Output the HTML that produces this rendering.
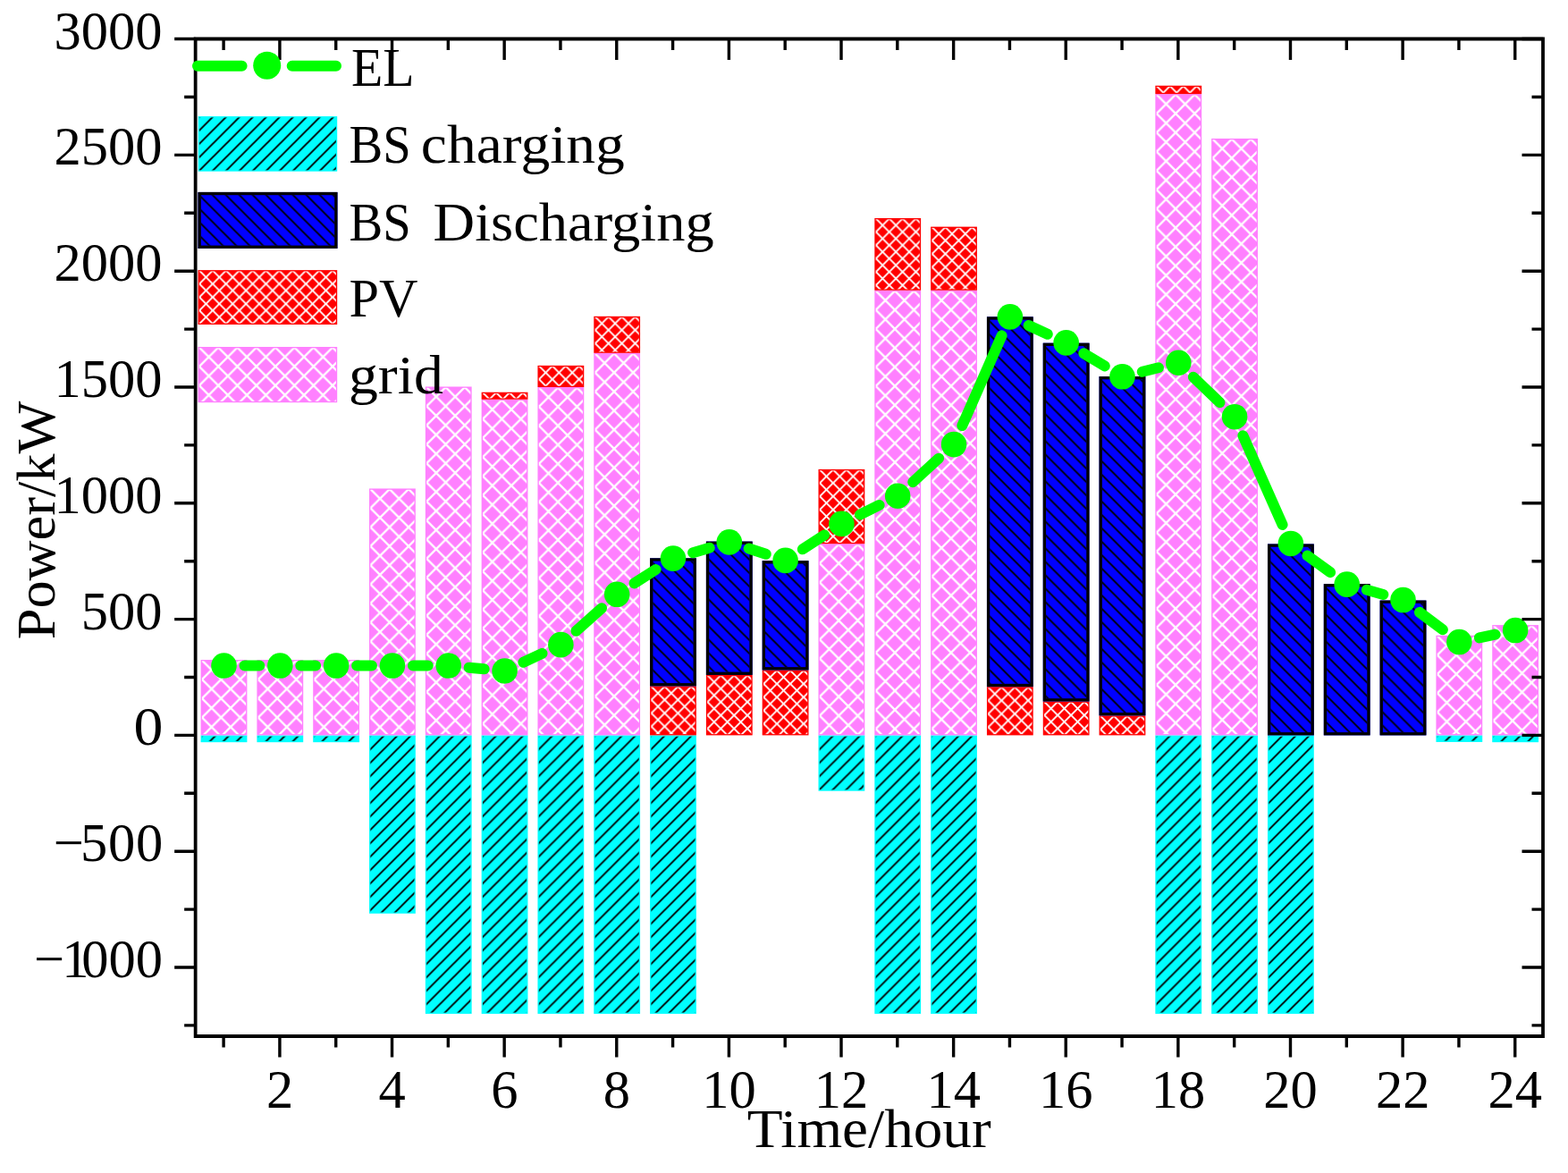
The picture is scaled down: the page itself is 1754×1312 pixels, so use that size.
<!DOCTYPE html>
<html><head><meta charset="utf-8"><title>Power chart</title>
<style>html,body{margin:0;padding:0;background:#fff}svg{display:block}</style></head>
<body><svg width="1754" height="1312" viewBox="0 0 1754 1312">
<defs><pattern id="pk" patternUnits="userSpaceOnUse" x="1.4" y="0.6" width="21.3" height="21.3"><rect width="21.3" height="21.3" fill="#FF80FF"/><path d="M-10.65,-10.65L31.95,31.95M-10.65,31.95L31.95,-10.65M-10.65,10.65L10.65,-10.65M10.65,31.95L31.95,10.65M-10.65,10.65L10.65,31.95M10.65,-10.65L31.95,10.65" stroke="#fff" stroke-width="2.3" fill="none"/></pattern><pattern id="rd" patternUnits="userSpaceOnUse" x="1.5" y="0.5" width="14.9" height="14.9"><rect width="14.9" height="14.9" fill="#FF0000"/><path d="M-7.45,-7.45L22.35,22.35M-7.45,22.35L22.35,-7.45M-7.45,7.45L7.45,-7.45M7.45,22.35L22.35,7.45M-7.45,7.45L7.45,22.35M7.45,-7.45L22.35,7.45" stroke="#fff" stroke-width="1.9" fill="none"/></pattern><pattern id="cy" patternUnits="userSpaceOnUse" x="2" y="0" width="15" height="15"><rect width="15" height="15" fill="#00FFFF"/><path d="M-7.5,7.5L7.5,-7.5M-7.5,22.5L22.5,-7.5M7.5,22.5L22.5,7.5" stroke="#000" stroke-width="1.9" fill="none"/></pattern><pattern id="bl" patternUnits="userSpaceOnUse" x="-2" y="0" width="15" height="15"><rect width="15" height="15" fill="#0000FF"/><path d="M-7.5,7.5L7.5,22.5M-7.5,-7.5L22.5,22.5M7.5,-7.5L22.5,7.5" stroke="#000" stroke-width="1.85" fill="none"/></pattern></defs>
<rect width="1754" height="1312" fill="#fff"/>
<g transform="translate(224.6,822.4)"><rect width="51.8" height="7.79" fill="#00FFFF"/><rect x="1.3" y="1.3" width="49.2" height="5.19" fill="url(#cy)"/></g>
<g transform="translate(224.6,738.03)"><rect width="51.8" height="84.37" fill="#FF80FF"/><rect x="1.3" y="1.3" width="49.2" height="81.77" fill="url(#pk)"/></g>
<g transform="translate(287.41,822.4)"><rect width="51.8" height="7.79" fill="#00FFFF"/><rect x="1.3" y="1.3" width="49.2" height="5.19" fill="url(#cy)"/></g>
<g transform="translate(287.41,738.03)"><rect width="51.8" height="84.37" fill="#FF80FF"/><rect x="1.3" y="1.3" width="49.2" height="81.77" fill="url(#pk)"/></g>
<g transform="translate(350.22,822.4)"><rect width="51.8" height="7.79" fill="#00FFFF"/><rect x="1.3" y="1.3" width="49.2" height="5.19" fill="url(#cy)"/></g>
<g transform="translate(350.22,738.03)"><rect width="51.8" height="84.37" fill="#FF80FF"/><rect x="1.3" y="1.3" width="49.2" height="81.77" fill="url(#pk)"/></g>
<g transform="translate(413.03,822.4)"><rect width="51.8" height="199.37" fill="#00FFFF"/><rect x="1.3" y="1.3" width="49.2" height="196.77" fill="url(#cy)"/></g>
<g transform="translate(413.03,546.45)"><rect width="51.8" height="275.95" fill="#FF80FF"/><rect x="1.3" y="1.3" width="49.2" height="273.35" fill="url(#pk)"/></g>
<g transform="translate(475.84,822.4)"><rect width="51.8" height="311.52" fill="#00FFFF"/><rect x="1.3" y="1.3" width="49.2" height="308.92" fill="url(#cy)"/></g>
<g transform="translate(475.84,432.48)"><rect width="51.8" height="389.92" fill="#FF80FF"/><rect x="1.3" y="1.3" width="49.2" height="387.32" fill="url(#pk)"/></g>
<g transform="translate(538.65,822.4)"><rect width="51.8" height="311.52" fill="#00FFFF"/><rect x="1.3" y="1.3" width="49.2" height="308.92" fill="url(#cy)"/></g>
<g transform="translate(538.65,446.76)"><rect width="51.8" height="375.64" fill="#FF80FF"/><rect x="1.3" y="1.3" width="49.2" height="373.04" fill="url(#pk)"/></g>
<g transform="translate(538.65,438.71)"><rect width="51.8" height="8.05" fill="#FF0000"/><rect x="1.3" y="1.3" width="49.2" height="5.45" fill="url(#rd)"/></g>
<g transform="translate(601.46,822.4)"><rect width="51.8" height="311.52" fill="#00FFFF"/><rect x="1.3" y="1.3" width="49.2" height="308.92" fill="url(#cy)"/></g>
<g transform="translate(601.46,433)"><rect width="51.8" height="389.4" fill="#FF80FF"/><rect x="1.3" y="1.3" width="49.2" height="386.8" fill="url(#pk)"/></g>
<g transform="translate(601.46,408.86)"><rect width="51.8" height="24.14" fill="#FF0000"/><rect x="1.3" y="1.3" width="49.2" height="21.54" fill="url(#rd)"/></g>
<g transform="translate(664.27,822.4)"><rect width="51.8" height="311.52" fill="#00FFFF"/><rect x="1.3" y="1.3" width="49.2" height="308.92" fill="url(#cy)"/></g>
<g transform="translate(664.27,394.84)"><rect width="51.8" height="427.56" fill="#FF80FF"/><rect x="1.3" y="1.3" width="49.2" height="424.96" fill="url(#pk)"/></g>
<g transform="translate(664.27,353.82)"><rect width="51.8" height="41.02" fill="#FF0000"/><rect x="1.3" y="1.3" width="49.2" height="38.42" fill="url(#rd)"/></g>
<g transform="translate(727.08,822.4)"><rect width="51.8" height="311.52" fill="#00FFFF"/><rect x="1.3" y="1.3" width="49.2" height="308.92" fill="url(#cy)"/></g>
<g transform="translate(727.08,767.36)"><rect width="51.8" height="55.04" fill="#FF0000"/><rect x="1.3" y="1.3" width="49.2" height="52.44" fill="url(#rd)"/></g>
<g transform="translate(727.08,624.33)"><rect width="51.8" height="143.04" fill="#0000FF"/><rect x="3.3" y="3.3" width="45.2" height="136.44" fill="url(#bl)"/><rect x="1.65" y="1.65" width="48.5" height="139.74" fill="none" stroke="#000" stroke-width="3.3"/></g>
<g transform="translate(789.89,754.9)"><rect width="51.8" height="67.5" fill="#FF0000"/><rect x="1.3" y="1.3" width="49.2" height="64.9" fill="url(#rd)"/></g>
<g transform="translate(789.89,605.63)"><rect width="51.8" height="149.27" fill="#0000FF"/><rect x="3.3" y="3.3" width="45.2" height="142.67" fill="url(#bl)"/><rect x="1.65" y="1.65" width="48.5" height="145.97" fill="none" stroke="#000" stroke-width="3.3"/></g>
<g transform="translate(852.7,749.45)"><rect width="51.8" height="72.95" fill="#FF0000"/><rect x="1.3" y="1.3" width="49.2" height="70.35" fill="url(#rd)"/></g>
<g transform="translate(852.7,627.18)"><rect width="51.8" height="122.27" fill="#0000FF"/><rect x="3.3" y="3.3" width="45.2" height="115.67" fill="url(#bl)"/><rect x="1.65" y="1.65" width="48.5" height="118.97" fill="none" stroke="#000" stroke-width="3.3"/></g>
<g transform="translate(915.51,822.4)"><rect width="51.8" height="62.3" fill="#00FFFF"/><rect x="1.3" y="1.3" width="49.2" height="59.7" fill="url(#cy)"/></g>
<g transform="translate(915.51,608.23)"><rect width="51.8" height="214.17" fill="#FF80FF"/><rect x="1.3" y="1.3" width="49.2" height="211.57" fill="url(#pk)"/></g>
<g transform="translate(915.51,524.9)"><rect width="51.8" height="83.33" fill="#FF0000"/><rect x="1.3" y="1.3" width="49.2" height="80.73" fill="url(#rd)"/></g>
<g transform="translate(978.32,822.4)"><rect width="51.8" height="311.52" fill="#00FFFF"/><rect x="1.3" y="1.3" width="49.2" height="308.92" fill="url(#cy)"/></g>
<g transform="translate(978.32,324.75)"><rect width="51.8" height="497.65" fill="#FF80FF"/><rect x="1.3" y="1.3" width="49.2" height="495.05" fill="url(#pk)"/></g>
<g transform="translate(978.32,244.01)"><rect width="51.8" height="80.74" fill="#FF0000"/><rect x="1.3" y="1.3" width="49.2" height="78.14" fill="url(#rd)"/></g>
<g transform="translate(1041.13,822.4)"><rect width="51.8" height="311.52" fill="#00FFFF"/><rect x="1.3" y="1.3" width="49.2" height="308.92" fill="url(#cy)"/></g>
<g transform="translate(1041.13,324.75)"><rect width="51.8" height="497.65" fill="#FF80FF"/><rect x="1.3" y="1.3" width="49.2" height="495.05" fill="url(#pk)"/></g>
<g transform="translate(1041.13,253.62)"><rect width="51.8" height="71.13" fill="#FF0000"/><rect x="1.3" y="1.3" width="49.2" height="68.53" fill="url(#rd)"/></g>
<g transform="translate(1103.94,768.14)"><rect width="51.8" height="54.26" fill="#FF0000"/><rect x="1.3" y="1.3" width="49.2" height="51.66" fill="url(#rd)"/></g>
<g transform="translate(1103.94,354.34)"><rect width="51.8" height="413.8" fill="#0000FF"/><rect x="3.3" y="3.3" width="45.2" height="407.2" fill="url(#bl)"/><rect x="1.65" y="1.65" width="48.5" height="410.5" fill="none" stroke="#000" stroke-width="3.3"/></g>
<g transform="translate(1166.75,784.5)"><rect width="51.8" height="37.9" fill="#FF0000"/><rect x="1.3" y="1.3" width="49.2" height="35.3" fill="url(#rd)"/></g>
<g transform="translate(1166.75,383.68)"><rect width="51.8" height="400.82" fill="#0000FF"/><rect x="3.3" y="3.3" width="45.2" height="394.22" fill="url(#bl)"/><rect x="1.65" y="1.65" width="48.5" height="397.52" fill="none" stroke="#000" stroke-width="3.3"/></g>
<g transform="translate(1229.56,800.33)"><rect width="51.8" height="22.07" fill="#FF0000"/><rect x="1.3" y="1.3" width="49.2" height="19.47" fill="url(#rd)"/></g>
<g transform="translate(1229.56,421.06)"><rect width="51.8" height="379.28" fill="#0000FF"/><rect x="3.3" y="3.3" width="45.2" height="372.68" fill="url(#bl)"/><rect x="1.65" y="1.65" width="48.5" height="375.98" fill="none" stroke="#000" stroke-width="3.3"/></g>
<g transform="translate(1292.37,822.4)"><rect width="51.8" height="311.52" fill="#00FFFF"/><rect x="1.3" y="1.3" width="49.2" height="308.92" fill="url(#cy)"/></g>
<g transform="translate(1292.37,105.13)"><rect width="51.8" height="717.27" fill="#FF80FF"/><rect x="1.3" y="1.3" width="49.2" height="714.67" fill="url(#pk)"/></g>
<g transform="translate(1292.37,95.78)"><rect width="51.8" height="9.35" fill="#FF0000"/><rect x="1.3" y="1.3" width="49.2" height="6.75" fill="url(#rd)"/></g>
<g transform="translate(1355.18,822.4)"><rect width="51.8" height="311.52" fill="#00FFFF"/><rect x="1.3" y="1.3" width="49.2" height="308.92" fill="url(#cy)"/></g>
<g transform="translate(1355.18,154.97)"><rect width="51.8" height="667.43" fill="#FF80FF"/><rect x="1.3" y="1.3" width="49.2" height="664.83" fill="url(#pk)"/></g>
<g transform="translate(1417.99,822.4)"><rect width="51.8" height="311.52" fill="#00FFFF"/><rect x="1.3" y="1.3" width="49.2" height="308.92" fill="url(#cy)"/></g>
<g transform="translate(1417.99,608.49)"><rect width="51.8" height="213.91" fill="#0000FF"/><rect x="3.3" y="3.3" width="45.2" height="207.31" fill="url(#bl)"/><rect x="1.65" y="1.65" width="48.5" height="210.61" fill="none" stroke="#000" stroke-width="3.3"/></g>
<g transform="translate(1480.8,653.14)"><rect width="51.8" height="169.26" fill="#0000FF"/><rect x="3.3" y="3.3" width="45.2" height="162.66" fill="url(#bl)"/><rect x="1.65" y="1.65" width="48.5" height="165.96" fill="none" stroke="#000" stroke-width="3.3"/></g>
<g transform="translate(1543.61,671.57)"><rect width="51.8" height="150.83" fill="#0000FF"/><rect x="3.3" y="3.3" width="45.2" height="144.23" fill="url(#bl)"/><rect x="1.65" y="1.65" width="48.5" height="147.53" fill="none" stroke="#000" stroke-width="3.3"/></g>
<g transform="translate(1606.42,822.4)"><rect width="51.8" height="7.53" fill="#00FFFF"/><rect x="1.3" y="1.3" width="49.2" height="4.93" fill="url(#cy)"/></g>
<g transform="translate(1606.42,710.77)"><rect width="51.8" height="111.63" fill="#FF80FF"/><rect x="1.3" y="1.3" width="49.2" height="109.03" fill="url(#pk)"/></g>
<g transform="translate(1669.23,822.4)"><rect width="51.8" height="7.79" fill="#00FFFF"/><rect x="1.3" y="1.3" width="49.2" height="5.19" fill="url(#cy)"/></g>
<g transform="translate(1669.23,699.09)"><rect width="51.8" height="123.31" fill="#FF80FF"/><rect x="1.3" y="1.3" width="49.2" height="120.71" fill="url(#pk)"/></g>
<path d="M273.5,744.52L290.31,744.52M336.31,744.52L353.12,744.52M399.12,744.52L415.93,744.52M461.93,744.52L478.74,744.52M524.64,746.7L541.65,748.31M585.39,740.76L606.52,730.89M644.48,705.8L673.05,680.18M709.54,652.42L733.61,636.99M775.07,618.19L793.7,612.8M837.65,613.55L856.74,619.78M897.86,614.35L922.15,598.48M962.01,575.68L983.62,564.97M1021.17,539.2L1050.08,512.67M1076.29,476.07L1120.58,375.39M1150.71,364L1171.78,373.75M1212.34,395.3L1235.77,409.43M1277.78,415.78L1295.95,411.28M1334.84,421.7L1364.51,450.27M1390.4,487.26L1434.57,586.94M1462.49,621.5L1488.1,640.13M1528.87,659.8L1547.34,664.92M1587.93,684.83L1613.9,704.26M1654.84,713.39L1672.61,709.72" stroke="#00FF00" stroke-width="12" stroke-linecap="round" fill="none"/>
<circle cx="250.5" cy="744.52" r="14.3" fill="#00FF00"/>
<circle cx="313.31" cy="744.52" r="14.3" fill="#00FF00"/>
<circle cx="376.12" cy="744.52" r="14.3" fill="#00FF00"/>
<circle cx="438.93" cy="744.52" r="14.3" fill="#00FF00"/>
<circle cx="501.74" cy="744.52" r="14.3" fill="#00FF00"/>
<circle cx="564.55" cy="750.49" r="14.3" fill="#00FF00"/>
<circle cx="627.36" cy="721.16" r="14.3" fill="#00FF00"/>
<circle cx="690.17" cy="664.82" r="14.3" fill="#00FF00"/>
<circle cx="752.98" cy="624.58" r="14.3" fill="#00FF00"/>
<circle cx="815.79" cy="606.41" r="14.3" fill="#00FF00"/>
<circle cx="878.6" cy="626.92" r="14.3" fill="#00FF00"/>
<circle cx="941.41" cy="585.9" r="14.3" fill="#00FF00"/>
<circle cx="1004.22" cy="554.75" r="14.3" fill="#00FF00"/>
<circle cx="1067.03" cy="497.12" r="14.3" fill="#00FF00"/>
<circle cx="1129.84" cy="354.34" r="14.3" fill="#00FF00"/>
<circle cx="1192.65" cy="383.42" r="14.3" fill="#00FF00"/>
<circle cx="1255.46" cy="421.32" r="14.3" fill="#00FF00"/>
<circle cx="1318.27" cy="405.74" r="14.3" fill="#00FF00"/>
<circle cx="1381.08" cy="466.23" r="14.3" fill="#00FF00"/>
<circle cx="1443.89" cy="607.97" r="14.3" fill="#00FF00"/>
<circle cx="1506.7" cy="653.66" r="14.3" fill="#00FF00"/>
<circle cx="1569.51" cy="671.05" r="14.3" fill="#00FF00"/>
<circle cx="1632.32" cy="718.04" r="14.3" fill="#00FF00"/>
<circle cx="1695.13" cy="705.06" r="14.3" fill="#00FF00"/>
<path d="M218.65,43.5V1159.0M1726.0,43.5V1159.0M216.75,43.5H1727.9M216.75,1159.0H1727.9" stroke="#000" stroke-width="3.8" fill="none"/>
<path d="M206.15,1146.9H218.65M1713.5,1146.9H1726.0M195.15,1082H218.65M1702.5,1082H1726.0M206.15,1017.1H218.65M1713.5,1017.1H1726.0M195.15,952.2H218.65M1702.5,952.2H1726.0M206.15,887.3H218.65M1713.5,887.3H1726.0M195.15,822.4H218.65M1702.5,822.4H1726.0M206.15,757.5H218.65M1713.5,757.5H1726.0M195.15,692.6H218.65M1702.5,692.6H1726.0M206.15,627.7H218.65M1713.5,627.7H1726.0M195.15,562.8H218.65M1702.5,562.8H1726.0M206.15,497.9H218.65M1713.5,497.9H1726.0M195.15,433H218.65M1702.5,433H1726.0M206.15,368.1H218.65M1713.5,368.1H1726.0M195.15,303.2H218.65M1702.5,303.2H1726.0M206.15,238.3H218.65M1713.5,238.3H1726.0M195.15,173.4H218.65M1702.5,173.4H1726.0M206.15,108.5H218.65M1713.5,108.5H1726.0M195.15,43.5H218.65M1702.5,43.5H1726.0M250.1,1159.0V1171.5M250.1,43.5V56M312.91,1159.0V1182.5M312.91,43.5V67M375.72,1159.0V1171.5M375.72,43.5V56M438.53,1159.0V1182.5M438.53,43.5V67M501.34,1159.0V1171.5M501.34,43.5V56M564.15,1159.0V1182.5M564.15,43.5V67M626.96,1159.0V1171.5M626.96,43.5V56M689.77,1159.0V1182.5M689.77,43.5V67M752.58,1159.0V1171.5M752.58,43.5V56M815.39,1159.0V1182.5M815.39,43.5V67M878.2,1159.0V1171.5M878.2,43.5V56M941.01,1159.0V1182.5M941.01,43.5V67M1003.82,1159.0V1171.5M1003.82,43.5V56M1066.63,1159.0V1182.5M1066.63,43.5V67M1129.44,1159.0V1171.5M1129.44,43.5V56M1192.25,1159.0V1182.5M1192.25,43.5V67M1255.06,1159.0V1171.5M1255.06,43.5V56M1317.87,1159.0V1182.5M1317.87,43.5V67M1380.68,1159.0V1171.5M1380.68,43.5V56M1443.49,1159.0V1182.5M1443.49,43.5V67M1506.3,1159.0V1171.5M1506.3,43.5V56M1569.11,1159.0V1182.5M1569.11,43.5V67M1631.92,1159.0V1171.5M1631.92,43.5V56M1694.73,1159.0V1182.5M1694.73,43.5V67" stroke="#000" stroke-width="3.4" fill="none"/>
<path d="M221,73.8H270.6M326.7,73.8H376" stroke="#00FF00" stroke-width="12" stroke-linecap="round" fill="none"/>
<circle cx="298.7" cy="73.2" r="15.5" fill="#00FF00"/>
<g transform="translate(221.7,130.1)"><rect width="155.5" height="61.6" fill="#00FFFF"/><rect x="1.3" y="1.3" width="152.9" height="59" fill="url(#cy)"/></g>
<g transform="translate(221.5,214.9)"><rect width="156" height="63" fill="#0000FF"/><rect x="3.3" y="3.3" width="149.4" height="56.4" fill="url(#bl)"/><rect x="1.65" y="1.65" width="152.7" height="59.7" fill="none" stroke="#000" stroke-width="3.3"/></g>
<g transform="translate(221.5,302.1)"><rect width="155.7" height="60.9" fill="#FF0000"/><rect x="1.3" y="1.3" width="153.1" height="58.3" fill="url(#rd)"/></g>
<g transform="translate(221.5,388)"><rect width="155.7" height="62.2" fill="#FF80FF"/><rect x="1.3" y="1.3" width="153.1" height="59.6" fill="url(#pk)"/></g>
<g font-family="Liberation Serif, serif" font-size="61" fill="#000"><text x="393" y="96.4" textLength="70.5" lengthAdjust="spacingAndGlyphs">EL</text><text x="390.55" y="181.7"><tspan textLength="69.2" lengthAdjust="spacingAndGlyphs">BS</tspan> <tspan x="470.85" textLength="228" lengthAdjust="spacingAndGlyphs">charging</tspan></text><text x="390.55" y="268.8"><tspan textLength="69.2" lengthAdjust="spacingAndGlyphs">BS</tspan>  <tspan x="484.6" textLength="314.2" lengthAdjust="spacingAndGlyphs">Discharging</tspan></text><text x="390.4" y="354.2" textLength="77" lengthAdjust="spacingAndGlyphs">PV</text><text x="390" y="439.9" textLength="105.8" lengthAdjust="spacingAndGlyphs">grid</text><text x="149.6" y="833.3" font-size="60.5" textLength="32.9" lengthAdjust="spacingAndGlyphs">0</text><text x="181.6" y="703.5" font-size="60.5" text-anchor="end">500</text><text x="181.6" y="573.7" font-size="60.5" text-anchor="end">1000</text><text x="181.6" y="443.9" font-size="60.5" text-anchor="end">1500</text><text x="181.6" y="314.1" font-size="60.5" text-anchor="end">2000</text><text x="181.6" y="184.3" font-size="60.5" text-anchor="end">2500</text><text x="181.6" y="55" font-size="60.5" text-anchor="end">3000</text><text x="59.8 90 121 152" y="963.1" font-size="60.5">−500</text><text x="37.9 69.2 91.3 121.55 151.8" y="1092.9" font-size="60.5">−1000</text><text x="313.01" y="1239.3" font-size="60.5" text-anchor="middle">2</text><text x="438.63" y="1239.3" font-size="60.5" text-anchor="middle">4</text><text x="564.25" y="1239.3" font-size="60.5" text-anchor="middle">6</text><text x="689.87" y="1239.3" font-size="60.5" text-anchor="middle">8</text><text x="815.49" y="1239.3" font-size="60.5" text-anchor="middle">10</text><text x="941.11" y="1239.3" font-size="60.5" text-anchor="middle">12</text><text x="1066.73" y="1239.3" font-size="60.5" text-anchor="middle">14</text><text x="1192.35" y="1239.3" font-size="60.5" text-anchor="middle">16</text><text x="1317.97" y="1239.3" font-size="60.5" text-anchor="middle">18</text><text x="1443.59" y="1239.3" font-size="60.5" text-anchor="middle">20</text><text x="1569.21" y="1239.3" font-size="60.5" text-anchor="middle">22</text><text x="1694.83" y="1239.3" font-size="60.5" text-anchor="middle">24</text><text x="972.2" y="1283.4" text-anchor="middle" textLength="272.9" lengthAdjust="spacingAndGlyphs">Time/hour</text><text transform="translate(60.6,582) rotate(-90)" text-anchor="middle" textLength="266.5" lengthAdjust="spacingAndGlyphs">Power/kW</text></g>
</svg></body></html>
